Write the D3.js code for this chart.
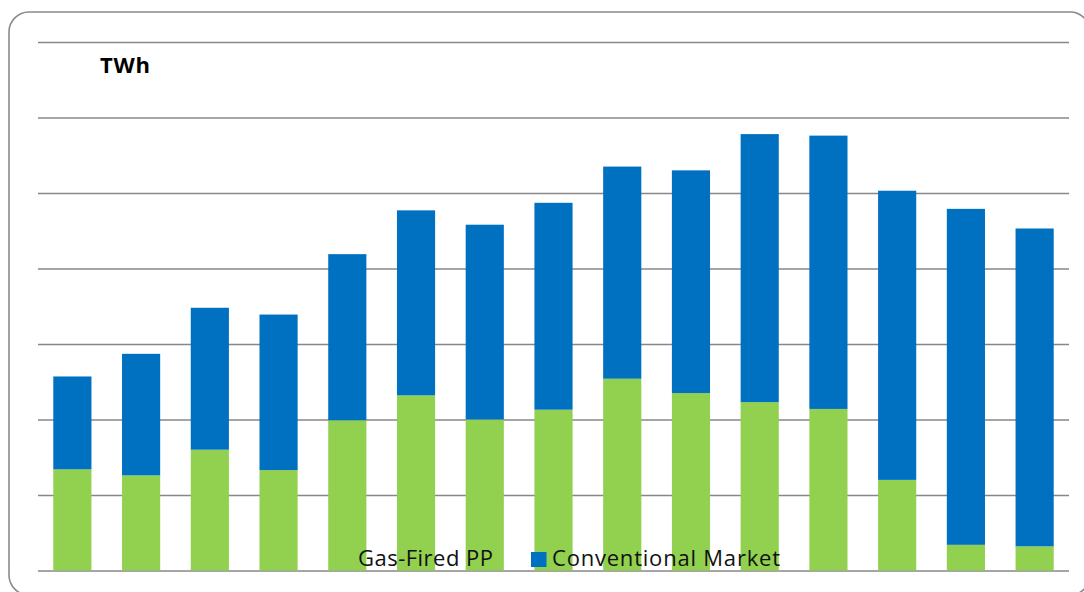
<!DOCTYPE html>
<html>
<head>
<meta charset="utf-8">
<title>gas-fired-vs-conventional</title>
<style>
body { margin: 0; background: #fff; font-family: "Open Sans", sans-serif; }
.grid line { stroke: #878787; stroke-width: 1.6px; }
.grid .domain { display: none; }
.barGas { fill: #92D050; }
.barConv { fill: #0070C0; }
</style>
</head>
<body>
<script src="https://cdnjs.cloudflare.com/ajax/libs/d3/7.8.5/d3.min.js"></script>
<script>
// categories (no labels shown on the original chart)
var years = ["2000", "2001", "2002", "2003", "2004", "2005", "2006", "2007",
             "2008", "2009", "2010", "2011", "2012", "2013", "2014"];
// TWh
var gasFired     = [13.4, 12.6, 16.0, 13.3, 19.9, 23.2, 20.0, 21.3, 25.4, 23.5, 22.3, 21.4, 12.0, 3.4, 3.2];
var conventional = [12.3, 16.1, 18.8, 20.6, 22.0, 24.5, 25.8, 27.4, 28.1, 29.5, 35.5, 36.2, 38.3, 44.5, 42.1];
var gridTicks = [0, 10, 20, 30, 40, 50, 60, 70];
var seriesNames = ["Gas-Fired PP", "Conventional Market"];

var totalWidth = 1084, totalHeight = 592;
var margin = { top: 42, right: 15, bottom: 21.5, left: 38 };
var width = totalWidth - margin.left - margin.right,
    height = totalHeight - margin.top - margin.bottom;

var root = d3.select("body").append("svg")
    .attr("width", totalWidth)
    .attr("height", totalHeight);

// rounded frame, partly running off the right and bottom edges
root.append("rect")
    .attr("x", 9).attr("y", 12)
    .attr("width", 1081).attr("height", 583)
    .attr("rx", 20).attr("ry", 20)
    .attr("fill", "none")
    .attr("stroke", "#8a8a8a")
    .attr("stroke-width", 1.6);

var svg = root.append("g")
    .attr("transform", "translate(" + margin.left + "," + margin.top + ")");

var x = d3.scaleBand()
    .domain(years)
    .range([0, width])
    .paddingInner(0.445)
    .paddingOuter(0.2225);

var y = d3.scaleLinear()
    .domain([0, 70])
    .range([height, 0]);

// gridlines only, no tick labels
svg.append("g")
    .attr("class", "grid")
    .call(d3.axisLeft(y).tickValues(gridTicks).tickSize(-width).tickFormat(""));

var data = years.map(function (yr, i) {
    return { year: yr, gas: gasFired[i], conv: conventional[i] };
});

svg.selectAll(".barGas")
    .data(data)
    .enter().append("rect")
    .attr("class", "barGas")
    .attr("x", function (d) { return x(d.year); })
    .attr("width", x.bandwidth())
    .attr("y", function (d) { return y(d.gas); })
    .attr("height", function (d) { return height - y(d.gas); });

svg.selectAll(".barConv")
    .data(data)
    .enter().append("rect")
    .attr("class", "barConv")
    .attr("x", function (d) { return x(d.year); })
    .attr("width", x.bandwidth())
    .attr("y", function (d) { return y(d.gas + d.conv); })
    .attr("height", function (d) { return y(d.gas) - y(d.gas + d.conv); });

// unit label
root.append("text")
    .attr("x", 100)
    .attr("y", 73)
    .style("font-size", "22px")
    .style("font-weight", "bold")
    .attr("textLength", 50)
    .text("TWh");

// legend sits on top of the bars at the bottom
var legend = root.append("g").attr("transform", "translate(337,566)");
var legendX = [0, 194];
var legendWidths = [135, 228];
var legendColors = ["#92D050", "#0070C0"];
seriesNames.forEach(function (name, i) {
    legend.append("rect")
        .attr("x", legendX[i])
        .attr("y", -14)
        .attr("width", 15.5)
        .attr("height", 15)
        .attr("fill", legendColors[i]);
    legend.append("text")
        .attr("x", legendX[i] + 21)
        .attr("y", 0)
        .style("font-size", "22px")
        .attr("textLength", legendWidths[i])
        .attr("fill", "#111")
        .text(name);
});
</script>
</body>
</html>
